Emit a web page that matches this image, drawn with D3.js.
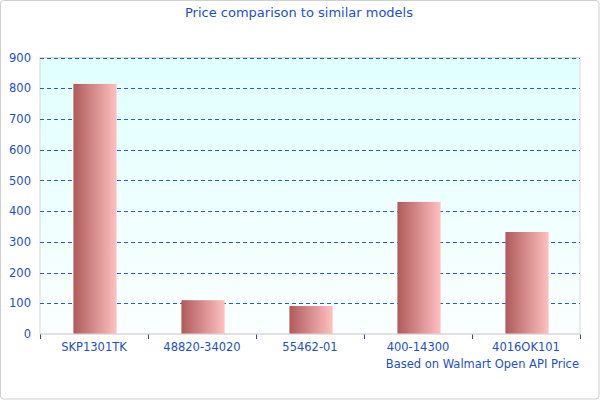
<!DOCTYPE html>
<html><head><meta charset="utf-8">
<script src="https://cdn.jsdelivr.net/npm/d3@7"></script>
<style>html,body{margin:0;padding:0;background:#fff}svg{display:block;font-family:"DejaVu Sans",sans-serif}</style>
</head><body>
<svg id="c" width="600" height="400"></svg>
<script>
const categories = ["SKP1301TK", "48820-34020", "55462-01", "400-14300", "4016OK101"];
const prices = [814, 110, 91, 430, 332];
const yTicks = [0, 100, 200, 300, 400, 500, 600, 700, 800, 900];
const title = "Price comparison to similar models";
const footnote = "Based on Walmart Open API Price";

const svg = d3.select("#c");
const W = 600, H = 400;
const m = {l: 40, r: 20, t: 57.5, b: 66};
const x = d3.scaleBand().domain(categories).range([m.l + 1, W - m.r + 1]).paddingInner(0.6).paddingOuter(0.3);
const xb = d3.scaleBand().domain(categories).range([m.l, W - m.r]);
const y = d3.scaleLinear().domain([0, 900]).range([H - m.b, m.t]);
const blue = "#1d4fc9";

const defs = svg.append("defs");
const bg = defs.append("linearGradient").attr("id", "bg").attr("x1", 0).attr("y1", 0).attr("x2", 0).attr("y2", 1);
bg.append("stop").attr("offset", "0%").attr("stop-color", "#e0ffff");
bg.append("stop").attr("offset", "100%").attr("stop-color", "#fafffe");
const bar = defs.append("linearGradient").attr("id", "bar").attr("x1", 0).attr("y1", 0).attr("x2", 1).attr("y2", 0);
bar.append("stop").attr("offset", "0%").attr("stop-color", "#b05a5a");
bar.append("stop").attr("offset", "100%").attr("stop-color", "#ffc0c0");

svg.append("rect").attr("x", 0.5).attr("y", 0.5).attr("width", W - 1.5).attr("height", H - 1.5)
  .attr("rx", 3).attr("fill", "#fff").attr("stroke", "#d0d0d0");

svg.append("rect").attr("x", m.l).attr("y", y(900)).attr("width", W - m.r - m.l).attr("height", y(0) - y(900))
  .attr("fill", "url(#bg)").attr("stroke", "#d8d8d8");

svg.append("g").selectAll("line").data(yTicks.filter(d => d > 0)).join("line")
  .attr("x1", m.l).attr("x2", W - m.r).attr("y1", d => Math.round(y(d)) + 0.5).attr("y2", d => Math.round(y(d)) + 0.5)
  .attr("stroke", "#2a5acc").attr("stroke-dasharray", "4,3").attr("stroke-width", 1);

svg.append("g").selectAll("rect").data(prices).join("rect")
  .attr("x", (d, i) => x(categories[i])).attr("width", x.bandwidth())
  .attr("y", d => y(d)).attr("height", d => y(0) - y(d)).attr("fill", "url(#bar)");

svg.append("line").attr("x1", m.l).attr("x2", W - m.r).attr("y1", y(0)).attr("y2", y(0)).attr("stroke", "#d8d8d8");

// y axis labels
const ya = svg.append("g").attr("transform", `translate(${m.l - 9},0)`)
  .call(d3.axisLeft(y).tickValues(yTicks).tickSize(0).tickPadding(0));
ya.select(".domain").remove();
ya.selectAll("text").attr("fill", blue).style("font-size", "11.5px").style("font-family", "DejaVu Sans");

// x axis
const boundaries = categories.map(c => xb(c)).concat([W - m.r]);
svg.append("g").selectAll("line").data(boundaries).join("line")
  .attr("x1", d => Math.round(d) + 0.5).attr("x2", d => Math.round(d) + 0.5)
  .attr("y1", y(0) + 0.5).attr("y2", y(0) + 5).attr("stroke", blue);
const xa = svg.append("g").attr("transform", `translate(0,${y(0)})`)
  .call(d3.axisBottom(xb).tickSize(0).tickPadding(9));
xa.select(".domain").remove();
xa.selectAll("text").attr("fill", blue).style("font-size", "11.5px").style("font-family", "DejaVu Sans");

svg.append("text").attr("x", 299).attr("y", 16.5).attr("text-anchor", "middle").attr("fill", blue)
  .style("font-size", "13px").text(title);
svg.append("text").attr("x", W - m.r - 1).attr("y", 368).attr("text-anchor", "end").attr("fill", blue)
  .style("font-size", "11.5px").text(footnote);
</script>
</body></html>
